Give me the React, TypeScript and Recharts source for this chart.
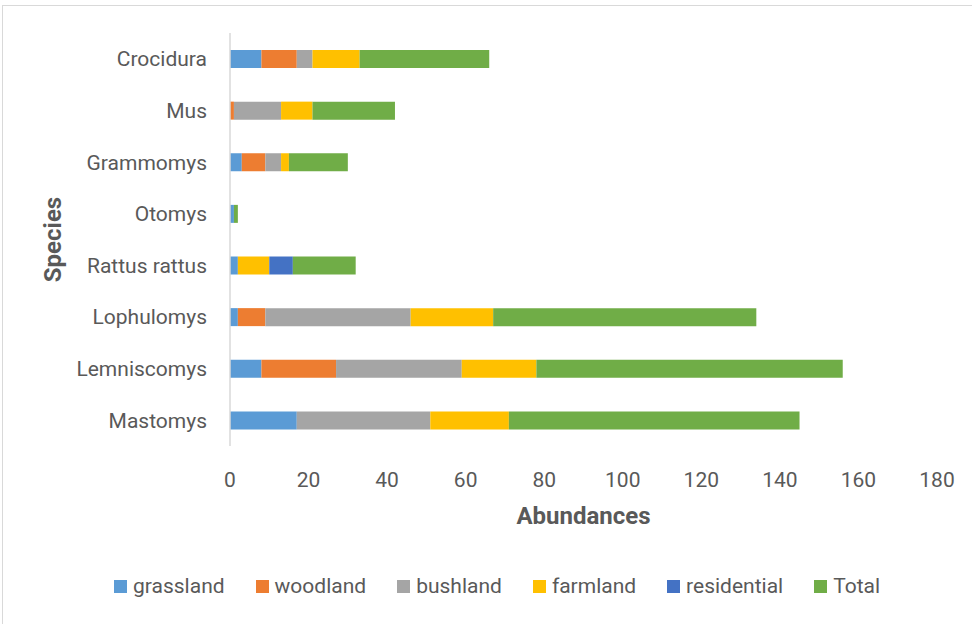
import React from 'react';
import { BarChart, Bar, XAxis, YAxis, Legend } from 'recharts';

// species, top to bottom as drawn
const species = ['Crocidura', 'Mus', 'Grammomys', 'Otomys', 'Rattus rattus', 'Lophulomys', 'Lemniscomys', 'Mastomys'];
const grassland = [8, 0, 3, 1, 2, 2, 8, 17];
const woodland = [9, 1, 6, 0, 0, 7, 19, 0];
const bushland = [4, 12, 4, 0, 0, 37, 32, 34];
const farmland = [12, 8, 2, 0, 8, 21, 19, 20];
const residential = [0, 0, 0, 0, 6, 0, 0, 0];
const total = [33, 21, 15, 1, 16, 67, 78, 74];
const xTicks = [0, 20, 40, 60, 80, 100, 120, 140, 160, 180];

const series = [
  { key: 'grassland', color: '#5B9BD5' },
  { key: 'woodland', color: '#ED7D31' },
  { key: 'bushland', color: '#A5A5A5' },
  { key: 'farmland', color: '#FFC000' },
  { key: 'residential', color: '#4472C4' },
  { key: 'Total', color: '#70AD47' },
];

const data = species.map((name, i) => ({
  name,
  grassland: grassland[i],
  woodland: woodland[i],
  bushland: bushland[i],
  farmland: farmland[i],
  residential: residential[i],
  Total: total[i],
}));

const FONT = 'Roboto, "Noto Sans", sans-serif';
const TEXT = '#595959';

const SpeciesLabel = (props: any) => {
  const vb = props.viewBox || { x: 0, y: 0, width: 0, height: 0 };
  const x = vb.x + 53;
  const y = vb.y + vb.height / 2;
  return (
    <text
      x={x}
      y={y}
      transform={`rotate(-90 ${x} ${y})`}
      textAnchor="middle"
      dominantBaseline="central"
      fill={TEXT}
      fontSize={24}
      fontWeight="bold"
      fontFamily={FONT}
    >
      Species
    </text>
  );
};

const AbundLabel = (props: any) => {
  const vb = props.viewBox || { x: 0, y: 0, width: 0, height: 0 };
  return (
    <text
      x={vb.x + vb.width / 2}
      y={vb.y + 70}
      textAnchor="middle"
      dominantBaseline="central"
      fill={TEXT}
      fontSize={24}
      fontWeight="bold"
      fontFamily={FONT}
    >
      Abundances
    </text>
  );
};

const LegendBox = () => (
  <div style={{ display: 'flex', alignItems: 'center', fontFamily: FONT, fontSize: 21, color: TEXT }}>
    {series.map((s) => (
      <div key={s.key} style={{ display: 'flex', alignItems: 'center', marginRight: 31 }}>
        <div style={{ width: 13, height: 13, background: s.color, marginRight: 6 }} />
        <span>{s.key}</span>
      </div>
    ))}
  </div>
);

export default function App() {
  return (
    <div style={{ position: 'absolute', left: 0, top: 0, width: 972, height: 624, background: '#fff' }}>
      <div
        style={{
          position: 'absolute',
          left: 2,
          top: 5,
          right: 0,
          bottom: 0,
          borderTop: '1px solid #d9d9d9',
          borderLeft: '1px solid #d9d9d9',
        }}
      />
      <BarChart
        width={972}
        height={624}
        data={data}
        layout="vertical"
        margin={{ top: 33, right: 35, left: 0, bottom: 118 }}
        style={{ fontFamily: FONT }}
      >
        <XAxis
          type="number"
          domain={[0, 180]}
          ticks={xTicks}
          axisLine={false}
          tickLine={false}
          tickMargin={20}
          height={60}
          tick={{ fontSize: 21, fill: TEXT }}
          label={<AbundLabel />}
        />
        <YAxis
          type="category"
          dataKey="name"
          width={230}
          axisLine={{ stroke: '#d9d9d9', strokeWidth: 1.5 }}
          tickLine={false}
          tickMargin={17}
          interval={0}
          tick={{ fontSize: 21, fill: TEXT }}
          label={<SpeciesLabel />}
        />
        <Legend
          verticalAlign="middle"
          align="center"
          content={<LegendBox />}
          wrapperStyle={{ top: 574, left: 114, width: 860 }}
        />
        {series.map((s) => (
          <Bar key={s.key} dataKey={s.key} stackId="a" fill={s.color} barSize={18} isAnimationActive={false} />
        ))}
      </BarChart>
    </div>
  );
}
